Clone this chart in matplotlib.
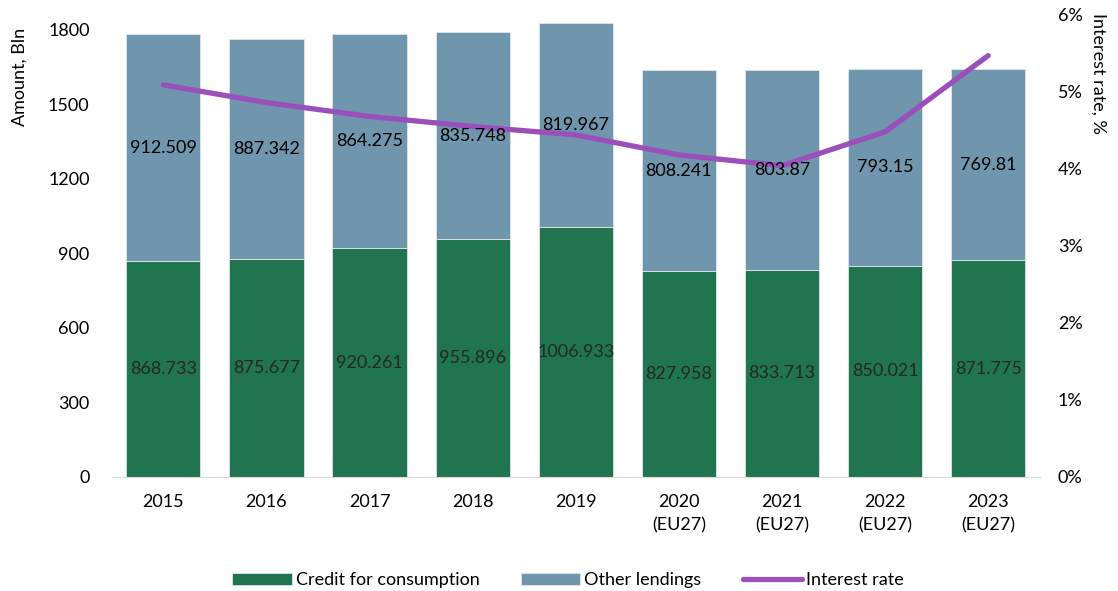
import numpy as np
import matplotlib.pyplot as plt

# Data
years = ['2015', '2016', '2017', '2018', '2019',
         '2020\n(EU27)', '2021\n(EU27)', '2022\n(EU27)', '2023\n(EU27)']
credit = [868.733, 875.677, 920.261, 955.896, 1006.933, 827.958, 833.713, 850.021, 871.775]
other = [912.509, 887.342, 864.275, 835.748, 819.967, 808.241, 803.87, 793.15, 769.81]
credit_txt = ['868.733', '875.677', '920.261', '955.896', '1006.933',
              '827.958', '833.713', '850.021', '871.775']
other_txt = ['912.509', '887.342', '864.275', '835.748', '819.967',
             '808.241', '803.87', '793.15', '769.81']
rate = [5.09, 4.86, 4.68, 4.55, 4.44, 4.18, 4.04, 4.48, 5.47]

plt.rcParams['font.family'] = ['Lato', 'DejaVu Sans']

green = '#207550'
bluegray = '#7096AD'
purple = '#9A4FBA'

fig = plt.figure(figsize=(11.18, 5.91), dpi=100)
ax = fig.add_axes([0.100, 0.193, 0.830, 0.782])
x = np.arange(len(years))

b1 = ax.bar(x, credit, width=0.72, color=green, edgecolor='#dfe6ec', linewidth=0.6,
            label='Credit for consumption')
b2 = ax.bar(x, other, width=0.72, bottom=credit, color=bluegray, edgecolor='#dfe6ec',
            linewidth=0.6, label='Other lendings')

ax.set_xlim(-0.5, len(years) - 0.5)
ax.set_ylim(0, 1860)
ax.set_yticks(np.arange(0, 1801, 300))
ax.set_xticks(x)
ax.set_xticklabels(years, linespacing=1.55)
ax.tick_params(axis='y', length=0, pad=16, labelsize=13)
ax.tick_params(axis='x', length=0, pad=12, labelsize=13)
for s in ['top', 'right', 'left']:
    ax.spines[s].set_visible(False)
ax.spines['bottom'].set_color('#d9d9d9')

ax2 = ax.twinx()
ln, = ax2.plot(x, rate, color=purple, linewidth=3.8, solid_capstyle='round',
               solid_joinstyle='round', label='Interest rate')
ax2.set_ylim(0, 6)
ax2.set_yticks(range(0, 7))
ax2.set_yticklabels([f'{v}%' for v in range(0, 7)])
ax2.tick_params(axis='y', length=0, pad=13, labelsize=13)
for s in ax2.spines.values():
    s.set_visible(False)

# labels on top of the line
for xi, c, o, ct, ot in zip(x, credit, other, credit_txt, other_txt):
    ax2.text(xi, c / 2, ct, ha='center', va='center', fontsize=13, color='#262626',
             transform=ax.transData, zorder=5)
    ax2.text(xi, c + o / 2, ot, ha='center', va='center', fontsize=13, color='black',
             transform=ax.transData, zorder=5)

fig.text(0.018, 0.87, 'Amount, Bln', rotation=90, ha='center', va='center', fontsize=13)
fig.text(0.982, 0.875, 'Interest rate, %', rotation=-90, ha='center', va='center', fontsize=13)

fig.legend([b1, b2, ln], ['Credit for consumption', 'Other lendings', 'Interest rate'],
           loc='center', bbox_to_anchor=(0.508, 0.018), ncol=3, frameon=False,
           fontsize=13, handlelength=3.3, handleheight=0.7, columnspacing=2.3,
           handletextpad=0.2)

plt.savefig('out.png', dpi=100)
